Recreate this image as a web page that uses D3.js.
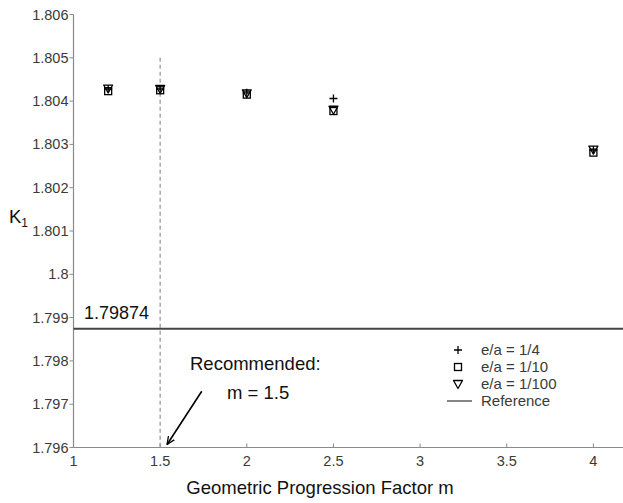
<!DOCTYPE html>
<html>
<head>
<meta charset="utf-8">
<script src="https://cdn.jsdelivr.net/npm/d3@7"></script>
<style>
  html, body { margin: 0; padding: 0; background: #fff; }
  svg { display: block; font-family: Arial, "Liberation Sans", sans-serif; }
</style>
</head>
<body>
<svg id="chart" width="623" height="503"></svg>
<script>
// Geometric progression factor values
const mValues = [1.2, 1.5, 2, 2.5, 4];
// K1 for each crack ratio e/a
const kQuarter = [1.80428, 1.80428, 1.80419, 1.80406, 1.80287];
const kTenth = [1.80423, 1.80425, 1.80415, 1.80377, 1.80281];
const kHundredth = [1.80429, 1.80428, 1.80418, 1.80380, 1.80288];
const referenceK = 1.79874;
const recommendedM = 1.5;
const xTicks = [1, 1.5, 2, 2.5, 3, 3.5, 4];
const yTicks = [1.796, 1.797, 1.798, 1.799, 1.8, 1.801, 1.802, 1.803, 1.804, 1.805, 1.806];
const yTickLabels = ["1.796", "1.797", "1.798", "1.799", "1.8", "1.801", "1.802", "1.803", "1.804", "1.805", "1.806"];

const svg = d3.select("#chart");
const plotLeft = 73.5, plotBottom = 447.5, plotTop = 14.5;

const x = d3.scaleLinear().domain([1, 4]).range([plotLeft, plotLeft + 3 * 173.3]);
const y = d3.scaleLinear().domain([1.796, 1.806]).range([plotBottom, plotTop]);

const axisColor = "#8a8a8a", textColor = "#3a3a3a";

// x axis (ticks point inward), drawn to the right edge
const gx = svg.append("g").attr("transform", `translate(0,${plotBottom})`);
gx.append("line").attr("x1", plotLeft).attr("x2", 623).attr("stroke", axisColor).attr("stroke-width", 1.2);
gx.selectAll("line.t").data(xTicks).join("line").attr("class", "t")
  .attr("x1", d => x(d)).attr("x2", d => x(d)).attr("y1", 0).attr("y2", -4)
  .attr("stroke", axisColor);
gx.selectAll("text").data(xTicks).join("text")
  .attr("x", d => x(d)).attr("y", 18).attr("text-anchor", "middle")
  .attr("font-size", 14.5).attr("fill", textColor).text(d => String(d));

// y axis (ticks point outward)
const gy = svg.append("g").attr("transform", `translate(${plotLeft},0)`);
gy.append("line").attr("y1", plotTop).attr("y2", plotBottom).attr("stroke", axisColor).attr("stroke-width", 1.2);
gy.selectAll("line.t").data(yTicks).join("line").attr("class", "t")
  .attr("x1", 0).attr("x2", -4).attr("y1", d => y(d)).attr("y2", d => y(d))
  .attr("stroke", axisColor);
gy.selectAll("text").data(yTicks).join("text")
  .attr("x", -5).attr("y", d => y(d) + 5).attr("text-anchor", "end")
  .attr("font-size", 14.5).attr("fill", textColor).text((d, i) => yTickLabels[i]);

// axis titles
svg.append("text").attr("x", 320).attr("y", 494).attr("text-anchor", "middle")
  .attr("font-size", 18.5).attr("fill", "#111").text("Geometric Progression Factor m");
const kt = svg.append("text").attr("x", 9).attr("y", 223).attr("font-size", 18.5).attr("fill", "#111");
kt.append("tspan").text("K");
kt.append("tspan").attr("font-size", 12).attr("dy", 4).text("1");

// recommended m (dashed)
svg.append("line")
  .attr("x1", x(recommendedM)).attr("x2", x(recommendedM))
  .attr("y1", y(1.805)).attr("y2", plotBottom)
  .attr("stroke", "#9a9a9a").attr("stroke-width", 1.3).attr("stroke-dasharray", "4,3");

// reference value line
svg.append("line").attr("x1", plotLeft).attr("x2", 623)
  .attr("y1", y(referenceK)).attr("y2", y(referenceK))
  .attr("stroke", "#444").attr("stroke-width", 2);
svg.append("text").attr("x", 84).attr("y", y(referenceK) - 10)
  .attr("font-size", 18).attr("fill", "#111").text(String(referenceK));

// marker helpers
function drawPlus(g, cx, cy) {
  g.append("path").attr("d", `M${cx - 4},${cy}H${cx + 4}M${cx},${cy - 4}V${cy + 4}`)
    .attr("stroke", "#000").attr("stroke-width", 1.3).attr("fill", "none");
}
function drawSquare(g, cx, cy) {
  g.append("rect").attr("x", cx - 3.5).attr("y", cy - 3.5).attr("width", 7).attr("height", 7)
    .attr("stroke", "#000").attr("stroke-width", 1.3).attr("fill", "none");
}
function drawTriangle(g, cx, cy) {
  g.append("path").attr("d", `M${cx - 4.5},${cy - 3.5}L${cx + 4.5},${cy - 3.5}L${cx},${cy + 4.5}Z`)
    .attr("stroke", "#000").attr("stroke-width", 1.3).attr("fill", "none").attr("stroke-linejoin", "round");
}
const pts = svg.append("g");
mValues.forEach((m, i) => {
  drawPlus(pts, x(m), y(kQuarter[i]));
  drawSquare(pts, x(m), y(kTenth[i]));
  drawTriangle(pts, x(m), y(kHundredth[i]));
});

// annotation
svg.append("text").attr("x", 190).attr("y", 370).attr("font-size", 18.5).attr("fill", "#111").text("Recommended:");
svg.append("text").attr("x", 227).attr("y", 399).attr("font-size", 18.5).attr("fill", "#111").text("m = 1.5");
svg.append("defs").append("marker").attr("id", "ah").attr("viewBox", "0 0 10 10")
  .attr("refX", 9).attr("refY", 5).attr("markerWidth", 9).attr("markerHeight", 9)
  .attr("markerUnits", "userSpaceOnUse").attr("orient", "auto")
  .append("path").attr("d", "M0,1L9,5L0,9").attr("fill", "none").attr("stroke", "#000").attr("stroke-width", 1.4);
svg.append("line")
  .attr("x1", x(1.74)).attr("y1", y(1.7973))
  .attr("x2", x(1.54)).attr("y2", y(1.79607))
  .attr("stroke", "#000").attr("stroke-width", 1.6).attr("marker-end", "url(#ah)");

// legend
const legend = svg.append("g");
const lx = 458, ly = 350, dy = 17;
drawPlus(legend, lx, ly);
drawSquare(legend, lx, ly + dy);
drawTriangle(legend, lx, ly + 2 * dy);
legend.append("line").attr("x1", lx - 11).attr("x2", lx + 14).attr("y1", ly + 3 * dy).attr("y2", ly + 3 * dy)
  .attr("stroke", "#444").attr("stroke-width", 1.3);
["e/a = 1/4", "e/a = 1/10", "e/a = 1/100", "Reference"].forEach((t, i) => {
  legend.append("text").attr("x", 481).attr("y", ly + i * dy + 5)
    .attr("font-size", 15).attr("fill", textColor).text(t);
});
</script>
</body>
</html>
